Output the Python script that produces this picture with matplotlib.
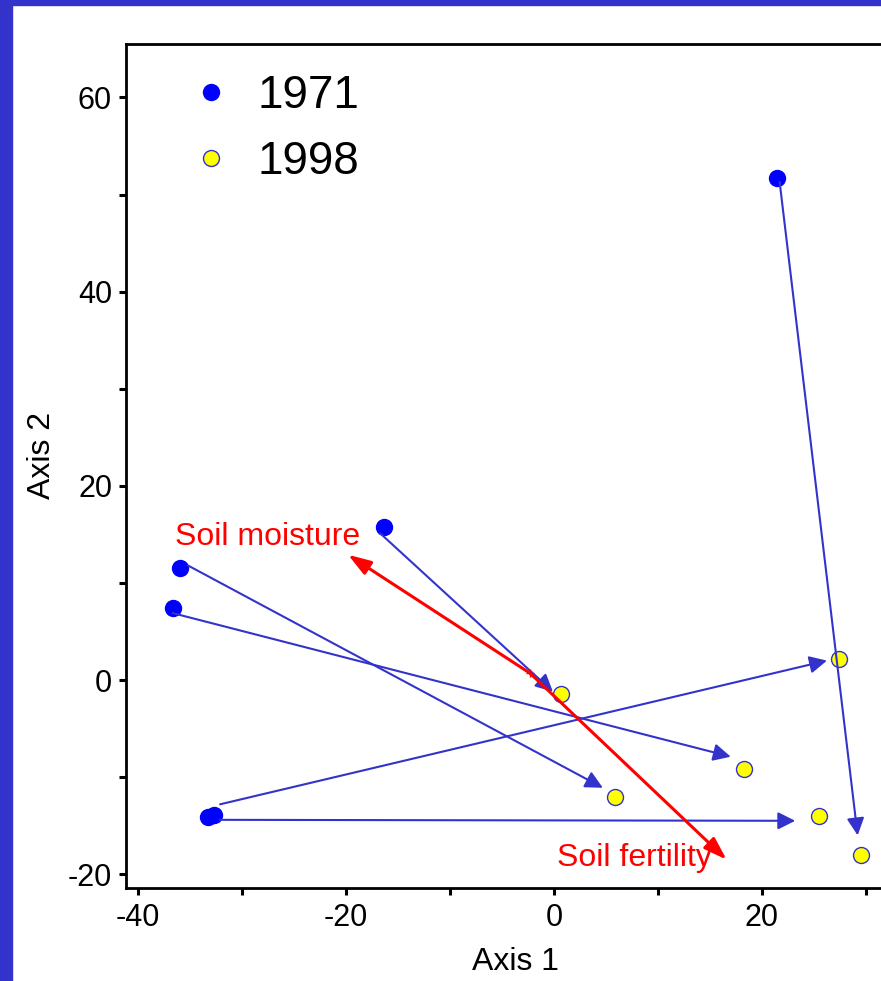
import matplotlib
matplotlib.use("Agg")
import matplotlib.pyplot as plt
from matplotlib.patches import Rectangle
from matplotlib.ticker import MultipleLocator

plt.rcParams["font.family"] = ["Liberation Sans", "DejaVu Sans"]
plt.rcParams["axes.unicode_minus"] = False

# site scores, 1971 and 1998
x71 = [21.4, -16.3, -36.0, -36.6, -33.3, -32.7]
y71 = [51.7, 15.8, 11.5, 7.4, -14.1, -13.9]
x98 = [29.5, 0.7, 5.9, 18.3, 25.5, 27.4]
y98 = [-18.0, -1.4, -12.0, -9.2, -14.0, 2.2]

# change arrows (start -> tip), as drawn in the original
arr_x0 = [21.7, -16.7, -35.2, -36.7, -32.1, -32.1]
arr_y0 = [51.3, 15.1, 11.8, 6.9, -14.4, -12.8]
arr_x1 = [29.2, -0.1, 4.7, 17.0, 23.2, 26.25]
arr_y1 = [-16.0, -1.2, -11.1, -7.9, -14.5, 2.0]

# environmental vectors
env_origin = (-2.3, 0.7)
env_names = ["Soil moisture", "Soil fertility"]
env_tip_x = [-19.8, 16.6]
env_tip_y = [12.9, -18.5]
env_lab_x = [-36.4, 0.3]
env_lab_y = [13.9, -19.2]

line_blue = "#3333CC"

fig = plt.figure(figsize=(8.81, 9.81), dpi=100)
ax = fig.add_axes([126 / 881, 1 - 888 / 981, 780 / 881, 844 / 981])

ax.plot(x71, y71, "o", ms=11.5, color="#0000FF", mec="#0000FF", label="1971", zorder=3)
ax.plot(x98, y98, "o", ms=11.5, color="#FFFF00", mec=line_blue, mew=1.0, label="1998", zorder=3)

for x0, y0, x1, y1 in zip(arr_x0, arr_y0, arr_x1, arr_y1):
    ax.annotate("", xy=(x1, y1), xytext=(x0, y0),
                arrowprops=dict(arrowstyle="-|>,head_length=0.5,head_width=0.25",
                                color=line_blue, lw=1.5, mutation_scale=21,
                                shrinkA=0, shrinkB=0),
                zorder=4)

for tx, ty in zip(env_tip_x, env_tip_y):
    ax.annotate("", xy=(tx, ty), xytext=env_origin,
                arrowprops=dict(arrowstyle="-|>,head_length=0.6,head_width=0.2",
                                color="red", lw=2.2, mutation_scale=23,
                                shrinkA=0, shrinkB=0),
                zorder=5)
ax.plot(*env_origin, "+", color="red", ms=6, mew=1, zorder=5)
for name, lx, ly in zip(env_names, env_lab_x, env_lab_y):
    ax.text(lx, ly, name, color="red", fontsize=23, ha="left", va="baseline", zorder=6)

ax.set_xlim(-41.15, 33.85)
ax.set_ylim(-21.42, 65.5)
ax.xaxis.set_major_locator(MultipleLocator(20))
ax.xaxis.set_minor_locator(MultipleLocator(10))
ax.yaxis.set_major_locator(MultipleLocator(20))
ax.yaxis.set_minor_locator(MultipleLocator(10))
ax.tick_params(which="both", direction="out", length=5, width=2.2, labelsize=22)
ax.tick_params(axis="x", pad=6)
ax.tick_params(axis="y", pad=5)
for sp in ax.spines.values():
    sp.set_linewidth(2)

ax.set_xlabel("Axis 1", fontsize=23)
ax.set_ylabel("Axis 2", fontsize=23)
ax.xaxis.set_label_coords(0.5, -0.07)
ax.yaxis.set_label_coords(-0.088, 0.513)

ax.legend(loc="upper left", bbox_to_anchor=(0.094, 0.964), frameon=False,
          fontsize=33, borderpad=0, borderaxespad=0, handlelength=0.5,
          handletextpad=0.76, labelspacing=0.47, markerscale=1.0)

# blue slide frame
fig.patches.append(Rectangle((0, 0), 12 / 881, 1, transform=fig.transFigure,
                             color=line_blue, zorder=10))
fig.patches.append(Rectangle((0, 1 - 5 / 981), 1, 5 / 981, transform=fig.transFigure,
                             color=line_blue, zorder=10))

fig.savefig("out.png", dpi=100)
